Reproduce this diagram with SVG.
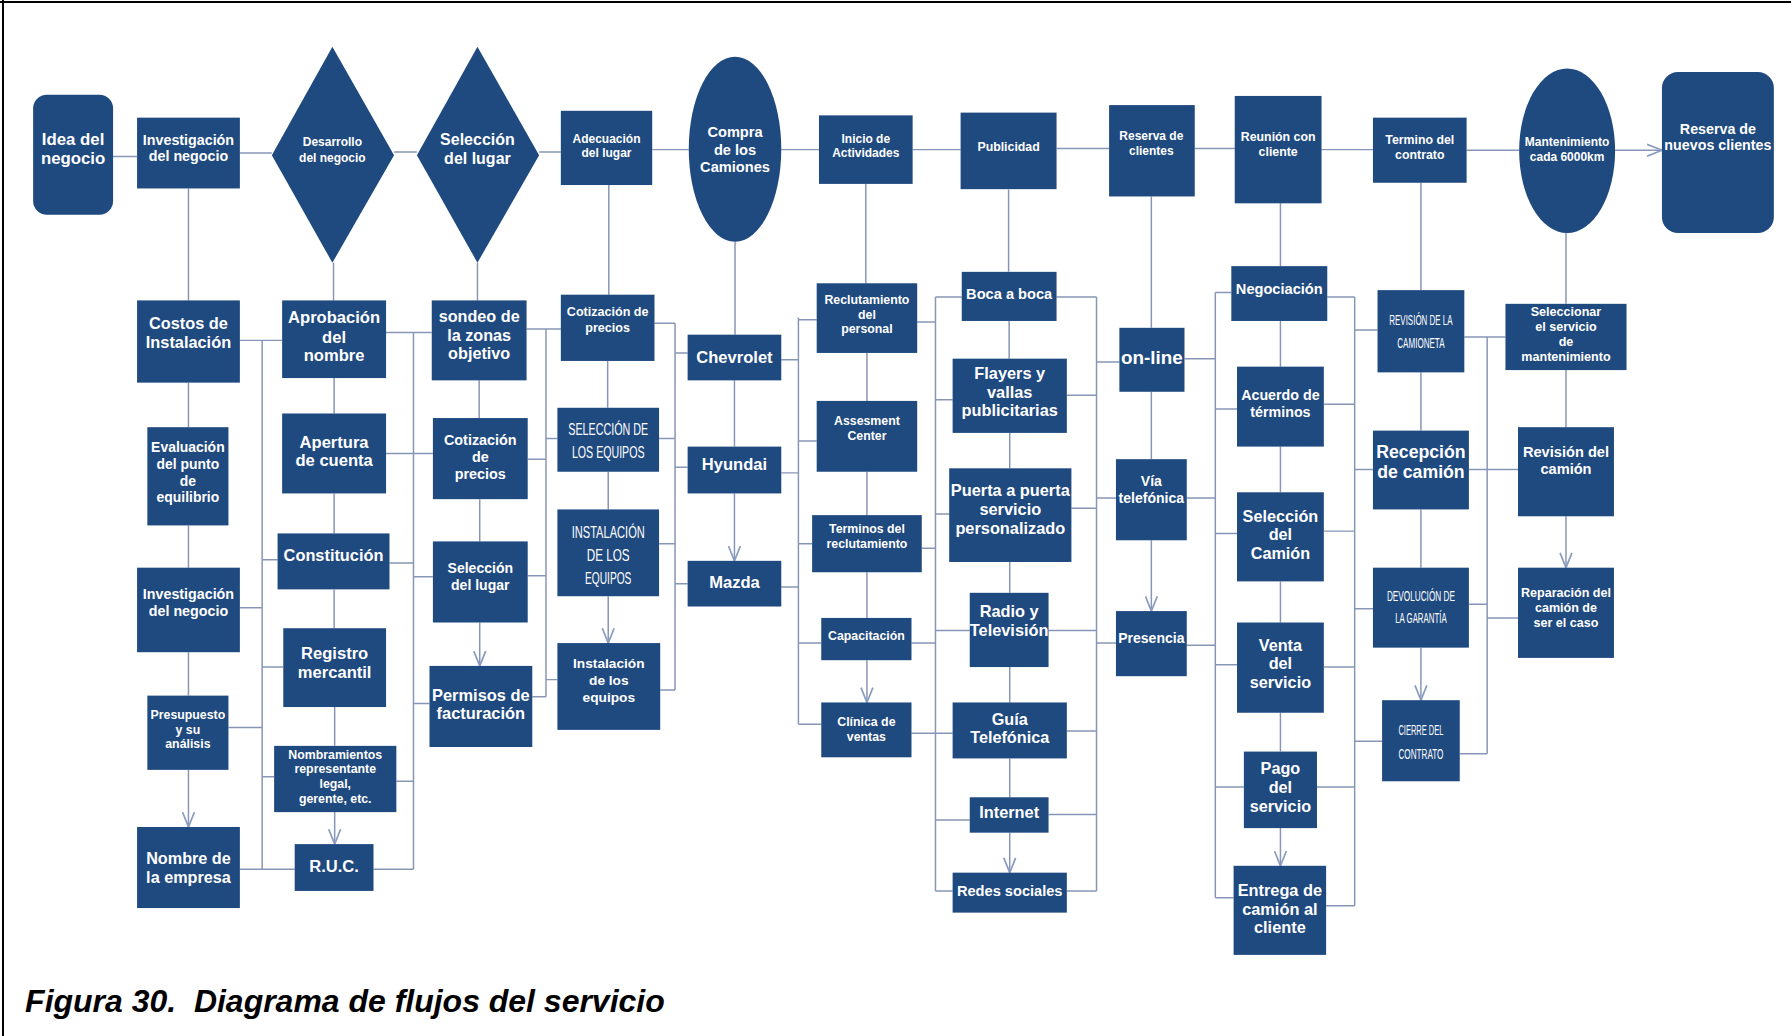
<svg xmlns="http://www.w3.org/2000/svg" width="1791" height="1036" viewBox="0 0 1791 1036">
<style>
.n{fill:#1f4a80}
.t{fill:#fff;font-family:"Liberation Sans",Arial,sans-serif;font-weight:700;text-anchor:middle;dominant-baseline:central}
.k{font-weight:400}
.c{fill:none;stroke:#8796b6;stroke-width:1.3}
.a{marker-end:url(#ah)}
.cap{font-family:"Liberation Sans",Arial,sans-serif;font-weight:700;font-style:italic;fill:#000}
</style>
<defs>
<marker id="ah" viewBox="0 0 14 12" markerUnits="userSpaceOnUse" markerWidth="14" markerHeight="12" refX="13.5" refY="6" orient="auto">
<path d="M0.5,0.8 L13.5,6 L0.5,11.2" fill="none" stroke="#8a9cc0" stroke-width="1.5"/>
</marker>
</defs>
<rect width="1791" height="1036" fill="#fff"/>
<line x1="0" y1="2" x2="1791" y2="2" stroke="#000" stroke-width="2"/>
<line x1="3" y1="0" x2="3" y2="1036" stroke="#000" stroke-width="2"/>
<g transform="scale(1.14222)">
<g id="connectors">
<path class="c a" d="M99,137H120M210,134H238M345,133H365M472,133H491M571,131H603M684,131H717M799,131H841M925,130H971M1046,130H1081M1157,131H1202M1284,131.5H1330M1414,131.5H1455"/>
<path class="c a" d="M165,165V263M165,335V374M165,460V497M165,571V609M165,674V724"/>
<path class="c a" d="M292,230V263M292.5,331V362M292.5,432V467M292.5,516V550M293,619V653M293,711V739"/>
<path class="c a" d="M418,230V263M419.5,333V366M420,437V474M420,545V583"/>
<path class="c a" d="M533,162V258M532,316V357M532.5,413V446M532.5,522V563"/>
<path class="c a" d="M643.5,211.6V293M643,333V391M643,432V491"/>
<path class="c a" d="M758,161V248M759,309V351M759,413V451M759,501V541M759,578V615"/>
<path class="c a" d="M883,166V238M883.5,281V314M884,379V410M884,492V519M884,584V615M884,664V698M884,729V764"/>
<path class="c a" d="M1008,172V287M1008,343V402M1008,473V535"/>
<path class="c a" d="M1121,178V233M1121,281V321M1121,391V431M1121,509V545M1121,624V658M1121,725V758"/>
<path class="c a" d="M1244,160V254M1244,326V377M1244,446V497M1244,567V613"/>
<path class="c a" d="M1371,204V266M1371,324V374M1371,452V497"/>
<path class="c" d="M229.5,298V761M210,298H247M210,532H229.5M200,637H229.5M210,761H258M229.5,490H243M229.5,584H248M229.5,680H240"/>
<path class="c" d="M362,291V761M338,291H378M338,397H379M341,493H362M362,505H379M362,616H376M347,684H362M327,761H362"/>
<path class="c" d="M478,288V610M461,288H491M462,402H478M478,384H488M462,504H478M466,610H478M478,595H488"/>
<path class="c" d="M591,283V604M573,283H591M577,384H591M577,476H591M578,604H591M591,309H602M591,409H602M591,511H602"/>
<path class="c" d="M699,278V634M684,315H699M684,414H699M684,514H699M699,280H715M699,386H715M699,476H711M699,563H719M699,634H719"/>
<path class="c" d="M819,260V780M803,282H819M807,480H819M798,563H819M798,642H834M819,260H842M819,350H834M819,450H831M819,552H849M819,718H849M819,780H834"/>
<path class="c" d="M960,260V780M925,260H960M934,346H960M938,445H960M918,552H960M934,640H960M918,713H960M934,780H960M960,317H980M960,436H977M960,563H977"/>
<path class="c" d="M1064,256V786M1037,314H1064M1039,436H1064M1039,565H1064M1064,256H1078M1064,358H1083M1064,467H1083M1064,582H1083M1064,689H1089M1064,786H1080"/>
<path class="c" d="M1186,260V793M1162,260H1186M1159,354H1186M1159,465H1186M1159,584H1186M1153,689H1186M1161,793H1186M1186,289H1206M1186,411H1202M1186,533H1202M1186,649H1210"/>
<path class="c" d="M1302,295V660M1282,295H1318M1286,411H1329M1286,529H1302M1278,660H1302M1302,541H1329"/>
</g>

<g id="n_idea"><rect class="n" x="29" y="83" width="70" height="105" rx="12"/><text class="t" font-size="14.7"><tspan x="64" y="122">Idea del</tspan><tspan x="64" y="138.6">negocio</tspan></text></g>
<g id="n_inv1"><rect class="n" x="120" y="103" width="90" height="62"/><text class="t" font-size="12.5"><tspan x="165" y="122.6">Investigación</tspan><tspan x="165" y="137">del negocio</tspan></text></g>
<g id="n_des"><polygon class="n" points="291,41 345,136 291,230 238,136"/><text class="t" font-size="10.5"><tspan x="291" y="124.5">Desarrollo</tspan><tspan x="291" y="138.6">del negocio</tspan></text></g>
<g id="n_sel"><polygon class="n" points="418,41 472,136 418,230 365,136"/><text class="t" font-size="14"><tspan x="418" y="122">Selección</tspan><tspan x="418" y="138.6">del lugar</tspan></text></g>
<g id="n_adec"><rect class="n" x="491" y="97" width="80" height="65"/><text class="t" font-size="10.5"><tspan x="531" y="122">Adecuación</tspan><tspan x="531" y="134">del lugar</tspan></text></g>
<g id="n_compra"><ellipse class="n" cx="643.5" cy="130.6" rx="40.5" ry="81"/><text class="t" font-size="12.8"><tspan x="643.5" y="116">Compra</tspan><tspan x="643.5" y="131">de los</tspan><tspan x="643.5" y="146">Camiones</tspan></text></g>
<g id="n_inicio"><rect class="n" x="717" y="101" width="82" height="60"/><text class="t" font-size="10.5"><tspan x="758" y="122">Inicio de</tspan><tspan x="758" y="134">Actividades</tspan></text></g>
<g id="n_pub"><rect class="n" x="841" y="98.6" width="84" height="67"/><text class="t" font-size="10.8"><tspan x="883" y="129">Publicidad</tspan></text></g>
<g id="n_res"><rect class="n" x="971" y="92" width="75" height="80"/><text class="t" font-size="10.5"><tspan x="1008" y="119">Reserva de</tspan><tspan x="1008" y="132">clientes</tspan></text></g>
<g id="n_reu"><rect class="n" x="1081" y="84" width="76" height="94"/><text class="t" font-size="10.8"><tspan x="1119" y="119.7">Reunión con</tspan><tspan x="1119" y="133">cliente</tspan></text></g>
<g id="n_term"><rect class="n" x="1202" y="103" width="82" height="57"/><text class="t" font-size="10.8"><tspan x="1243" y="122.6">Termino del</tspan><tspan x="1243" y="135.7">contrato</tspan></text></g>
<g id="n_mant"><ellipse class="n" cx="1372" cy="132" rx="42" ry="72"/><text class="t" font-size="10.5"><tspan x="1372" y="124">Mantenimiento</tspan><tspan x="1372" y="137.5">cada 6000km</tspan></text></g>
<g id="n_resn"><rect class="n" x="1455" y="63" width="98" height="141" rx="14"/><text class="t" font-size="12.5"><tspan x="1504" y="113">Reserva de</tspan><tspan x="1504" y="127">nuevos clientes</tspan></text></g>

<g id="n_costos"><rect class="n" x="120" y="263" width="90" height="72"/><text class="t" font-size="14.3"><tspan x="165" y="283">Costos de</tspan><tspan x="165" y="299">Instalación</tspan></text></g>
<g id="n_eval"><rect class="n" x="129" y="374" width="71" height="86"/><text class="t" font-size="12.2"><tspan x="164.5" y="391">Evaluación</tspan><tspan x="164.5" y="406">del punto</tspan><tspan x="164.5" y="421">de</tspan><tspan x="164.5" y="435">equilibrio</tspan></text></g>
<g id="n_inv2"><rect class="n" x="120" y="497" width="90" height="74"/><text class="t" font-size="12.5"><tspan x="165" y="520">Investigación</tspan><tspan x="165" y="535">del negocio</tspan></text></g>
<g id="n_pres"><rect class="n" x="129" y="609" width="71" height="65"/><text class="t" font-size="10.8"><tspan x="164.5" y="626">Presupuesto</tspan><tspan x="164.5" y="639">y su</tspan><tspan x="164.5" y="651.5">análisis</tspan></text></g>
<g id="n_nombre"><rect class="n" x="120" y="724" width="90" height="71"/><text class="t" font-size="14.2"><tspan x="165" y="751">Nombre de</tspan><tspan x="165" y="768">la empresa</tspan></text></g>

<g id="n_aprob"><rect class="n" x="247" y="263" width="91" height="68"/><text class="t" font-size="14.5"><tspan x="292.5" y="277.6">Aprobación</tspan><tspan x="292.5" y="295">del</tspan><tspan x="292.5" y="311">nombre</tspan></text></g>
<g id="n_apert"><rect class="n" x="247" y="362" width="91" height="70"/><text class="t" font-size="14.5"><tspan x="292.5" y="386.7">Apertura</tspan><tspan x="292.5" y="402.7">de cuenta</tspan></text></g>
<g id="n_const"><rect class="n" x="243" y="467" width="98" height="49"/><text class="t" font-size="14.3"><tspan x="292" y="486">Constitución</tspan></text></g>
<g id="n_reg"><rect class="n" x="248" y="550" width="90" height="69"/><text class="t" font-size="14.5"><tspan x="293" y="572">Registro</tspan><tspan x="293" y="588.6">mercantil</tspan></text></g>
<g id="n_nomb"><rect class="n" x="240" y="653" width="107" height="58"/><text class="t" font-size="10.8"><tspan x="293.5" y="661">Nombramientos</tspan><tspan x="293.5" y="673">representante</tspan><tspan x="293.5" y="686">legal,</tspan><tspan x="293.5" y="699.6">gerente, etc.</tspan></text></g>
<g id="n_ruc"><rect class="n" x="258" y="739" width="69" height="41"/><text class="t" font-size="14.5"><tspan x="292.5" y="758">R.U.C.</tspan></text></g>

<g id="n_sondeo"><rect class="n" x="378" y="263" width="83" height="70"/><text class="t" font-size="14.2"><tspan x="419.5" y="276.6">sondeo de</tspan><tspan x="419.5" y="293">la zonas</tspan><tspan x="419.5" y="309">objetivo</tspan></text></g>
<g id="n_cot3"><rect class="n" x="379" y="366" width="83" height="71"/><text class="t" font-size="12.6"><tspan x="420.5" y="385">Cotización</tspan><tspan x="420.5" y="400">de</tspan><tspan x="420.5" y="415">precios</tspan></text></g>
<g id="n_sel3"><rect class="n" x="379" y="474" width="83" height="71"/><text class="t" font-size="12.3"><tspan x="420.5" y="497">Selección</tspan><tspan x="420.5" y="512">del lugar</tspan></text></g>
<g id="n_perm"><rect class="n" x="376" y="583" width="90" height="71"/><text class="t" font-size="14.4"><tspan x="421" y="608.6">Permisos de</tspan><tspan x="421" y="624.5">facturación</tspan></text></g>

<g id="n_cot4"><rect class="n" x="491" y="258" width="82" height="58"/><text class="t" font-size="11"><tspan x="532" y="273">Cotización de</tspan><tspan x="532" y="287">precios</tspan></text></g>
<g id="n_seleq"><rect class="n" x="488" y="357" width="89" height="56"/><text class="t k" font-size="14"><tspan x="532.5" y="375.6" textLength="70" lengthAdjust="spacingAndGlyphs">SELECCIÓN DE</tspan><tspan x="532.5" y="396" textLength="63.5" lengthAdjust="spacingAndGlyphs">LOS EQUIPOS</tspan></text></g>
<g id="n_insteq"><rect class="n" x="488" y="446" width="89" height="76"/><text class="t k" font-size="14"><tspan x="532.5" y="466" textLength="64" lengthAdjust="spacingAndGlyphs">INSTALACIÓN</tspan><tspan x="532.5" y="486" textLength="37.5" lengthAdjust="spacingAndGlyphs">DE LOS</tspan><tspan x="532.5" y="505.7" textLength="40.6" lengthAdjust="spacingAndGlyphs">EQUIPOS</tspan></text></g>
<g id="n_inst"><rect class="n" x="488" y="563" width="90" height="76"/><text class="t" font-size="12"><tspan x="533" y="580.8">Instalación</tspan><tspan x="533" y="595">de los</tspan><tspan x="533" y="610">equipos</tspan></text></g>

<g id="n_chev"><rect class="n" x="602" y="293" width="82" height="40"/><text class="t" font-size="14.5"><tspan x="643" y="313">Chevrolet</tspan></text></g>
<g id="n_hyun"><rect class="n" x="602" y="391" width="82" height="41"/><text class="t" font-size="14.5"><tspan x="643" y="406">Hyundai</tspan></text></g>
<g id="n_mazda"><rect class="n" x="602" y="491" width="82" height="40"/><text class="t" font-size="14.5"><tspan x="643" y="509.5">Mazda</tspan></text></g>

<g id="n_recl"><rect class="n" x="715" y="248" width="88" height="61"/><text class="t" font-size="10.8"><tspan x="759" y="262.6">Reclutamiento</tspan><tspan x="759" y="276">del</tspan><tspan x="759" y="288">personal</tspan></text></g>
<g id="n_assess"><rect class="n" x="715" y="351" width="88" height="62"/><text class="t" font-size="10.8"><tspan x="759" y="368.6">Assesment</tspan><tspan x="759" y="381.7">Center</tspan></text></g>
<g id="n_termr"><rect class="n" x="711" y="451" width="96" height="50"/><text class="t" font-size="10.8"><tspan x="759" y="463">Terminos del</tspan><tspan x="759" y="476">reclutamiento</tspan></text></g>
<g id="n_capac"><rect class="n" x="719" y="541" width="79" height="37"/><text class="t" font-size="10.8"><tspan x="758.5" y="557">Capacitación</tspan></text></g>
<g id="n_clin"><rect class="n" x="719" y="615" width="79" height="48"/><text class="t" font-size="10.8"><tspan x="758.5" y="632">Clínica de</tspan><tspan x="758.5" y="645">ventas</tspan></text></g>

<g id="n_boca"><rect class="n" x="842" y="238" width="83" height="43"/><text class="t" font-size="12.8"><tspan x="883.5" y="257">Boca a boca</tspan></text></g>
<g id="n_flay"><rect class="n" x="834" y="314" width="100" height="65"/><text class="t" font-size="14.3"><tspan x="884" y="327">Flayers y</tspan><tspan x="884" y="343">vallas</tspan><tspan x="884" y="359">publicitarias</tspan></text></g>
<g id="n_puerta"><rect class="n" x="831" y="410" width="107" height="82"/><text class="t" font-size="14.3"><tspan x="884.5" y="429">Puerta a puerta</tspan><tspan x="884.5" y="446">servicio</tspan><tspan x="884.5" y="462">personalizado</tspan></text></g>
<g id="n_radio"><rect class="n" x="849" y="519" width="69" height="65"/><text class="t" font-size="14.3"><tspan x="883.5" y="535">Radio y</tspan><tspan x="883.5" y="552">Televisión</tspan></text></g>
<g id="n_guia"><rect class="n" x="834" y="615" width="100" height="49"/><text class="t" font-size="14.2"><tspan x="884" y="629.5">Guía</tspan><tspan x="884" y="645">Telefónica</tspan></text></g>
<g id="n_inet"><rect class="n" x="849" y="698" width="69" height="31"/><text class="t" font-size="14.3"><tspan x="883.5" y="711">Internet</tspan></text></g>
<g id="n_redes"><rect class="n" x="834" y="764" width="100" height="35"/><text class="t" font-size="12.8"><tspan x="884" y="780">Redes sociales</tspan></text></g>

<g id="n_online"><rect class="n" x="980" y="287" width="57" height="56"/><text class="t" font-size="16.5"><tspan x="1008.5" y="313">on-line</tspan></text></g>
<g id="n_via"><rect class="n" x="977" y="402" width="62" height="71"/><text class="t" font-size="12.3"><tspan x="1008" y="421">Vía</tspan><tspan x="1008" y="436">telefónica</tspan></text></g>
<g id="n_pres8"><rect class="n" x="977" y="535" width="62" height="57"/><text class="t" font-size="12.3"><tspan x="1008" y="559">Presencia</tspan></text></g>

<g id="n_nego"><rect class="n" x="1078" y="233" width="84" height="48"/><text class="t" font-size="12.8"><tspan x="1120" y="253">Negociación</tspan></text></g>
<g id="n_acu"><rect class="n" x="1083" y="321" width="76" height="70"/><text class="t" font-size="12.5"><tspan x="1121" y="346">Acuerdo de</tspan><tspan x="1121" y="360.4">términos</tspan></text></g>
<g id="n_selc"><rect class="n" x="1083" y="431" width="76" height="78"/><text class="t" font-size="14.2"><tspan x="1121" y="451.5">Selección</tspan><tspan x="1121" y="467.5">del</tspan><tspan x="1121" y="484">Camión</tspan></text></g>
<g id="n_venta"><rect class="n" x="1083" y="545" width="76" height="79"/><text class="t" font-size="14.2"><tspan x="1121" y="565">Venta</tspan><tspan x="1121" y="580.5">del</tspan><tspan x="1121" y="597">servicio</tspan></text></g>
<g id="n_pago"><rect class="n" x="1089" y="658" width="64" height="67"/><text class="t" font-size="14.2"><tspan x="1121" y="672.6">Pago</tspan><tspan x="1121" y="689">del</tspan><tspan x="1121" y="705.7">servicio</tspan></text></g>
<g id="n_entrega"><rect class="n" x="1080" y="758" width="81" height="78"/><text class="t" font-size="14.3"><tspan x="1120.5" y="779">Entrega de</tspan><tspan x="1120.5" y="796">camión al</tspan><tspan x="1120.5" y="811.7">cliente</tspan></text></g>

<g id="n_rev"><rect class="n" x="1206" y="254" width="76" height="72"/><text class="t k" font-size="13"><tspan x="1244" y="280" textLength="55.4" lengthAdjust="spacingAndGlyphs">REVISIÓN DE LA</tspan><tspan x="1244" y="300.6" textLength="41.4" lengthAdjust="spacingAndGlyphs">CAMIONETA</tspan></text></g>
<g id="n_recep"><rect class="n" x="1202" y="377" width="84" height="69"/><text class="t" font-size="15.5"><tspan x="1244" y="395.5">Recepción</tspan><tspan x="1244" y="413">de camión</tspan></text></g>
<g id="n_devol"><rect class="n" x="1202" y="497" width="84" height="70"/><text class="t k" font-size="13"><tspan x="1244" y="522" textLength="59.5" lengthAdjust="spacingAndGlyphs">DEVOLUCIÓN DE</tspan><tspan x="1244" y="541" textLength="45" lengthAdjust="spacingAndGlyphs">LA GARANTÍA</tspan></text></g>
<g id="n_cierre"><rect class="n" x="1210" y="613" width="68" height="71"/><text class="t k" font-size="13"><tspan x="1244" y="639" textLength="39.4" lengthAdjust="spacingAndGlyphs">CIERRE DEL</tspan><tspan x="1244" y="660" textLength="39.4" lengthAdjust="spacingAndGlyphs">CONTRATO</tspan></text></g>

<g id="n_selm"><rect class="n" x="1318" y="266" width="106" height="58"/><text class="t" font-size="11"><tspan x="1371" y="273">Seleccionar</tspan><tspan x="1371" y="286">el servicio</tspan><tspan x="1371" y="299">de</tspan><tspan x="1371" y="312.5">mantenimiento</tspan></text></g>
<g id="n_revc"><rect class="n" x="1329" y="374" width="84" height="78"/><text class="t" font-size="12.8"><tspan x="1371" y="396">Revisión del</tspan><tspan x="1371" y="410.6">camión</tspan></text></g>
<g id="n_rep"><rect class="n" x="1329" y="497" width="84" height="79"/><text class="t" font-size="11"><tspan x="1371" y="519">Reparación del</tspan><tspan x="1371" y="532.6">camión de</tspan><tspan x="1371" y="545.6">ser el caso</tspan></text></g>

<text class="cap" x="22" y="886" font-size="28" xml:space="preserve">Figura 30.  Diagrama de flujos del servicio</text>
</g>
</svg>
